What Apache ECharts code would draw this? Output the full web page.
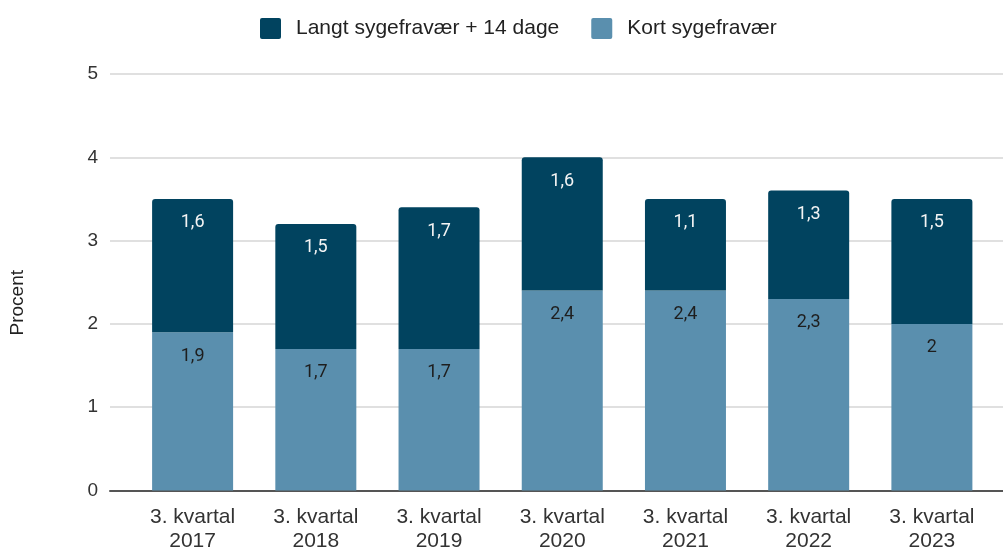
<!DOCTYPE html>
<html>
<head>
<meta charset="utf-8">
<script src="https://cdn.jsdelivr.net/npm/echarts@6/dist/echarts.min.js"></script>
<style>
  html, body { margin: 0; padding: 0; background: #fff; }
  #chart { width: 1003px; height: 547px; }
</style>
</head>
<body>
<div id="chart"></div>
<script>
// Sygefravær, 3. kvartal 2017-2023
const categories = ['3. kvartal\n2017', '3. kvartal\n2018', '3. kvartal\n2019', '3. kvartal\n2020',
                    '3. kvartal\n2021', '3. kvartal\n2022', '3. kvartal\n2023'];
const kortValues = [1.9, 1.7, 1.7, 2.4, 2.4, 2.3, 2];
const langtValues = [1.6, 1.5, 1.7, 1.6, 1.1, 1.3, 1.5];
const yTicks = [0, 1, 2, 3, 4, 5];

const colors = { langt: '#01435F', kort: '#5A8FAE', grid: '#E0E0E0', axis: '#555', ink: '#333' };
const arial = '"Liberation Sans", Arial, sans-serif';
const roboto = 'Roboto, "Noto Sans", sans-serif';
const fmt = (v) => String(v).replace('.', ',');

const yMin = yTicks[0];
const yMax = yTicks[yTicks.length - 1];

// small-radius square for the legend keys
const keyIcon = 'path://M2,0H19Q21,0,21,2V19Q21,21,19,21H2Q0,21,0,19V2Q0,0,2,0Z';

const chart = echarts.init(document.getElementById('chart'), null, { renderer: 'canvas' });
chart.setOption({
  animation: false,
  textStyle: { fontFamily: arial },
  legend: {
    top: 13,
    left: 255,
    itemWidth: 21,
    itemHeight: 21,
    itemGap: 32,
    icon: keyIcon,
    data: ['Langt sygefravær + 14 dage', 'Kort sygefravær'],
    textStyle: { color: '#222', fontSize: 21, fontFamily: arial, padding: [0, 0, 0, 10] },
  },
  graphic: [{
    type: 'text',
    left: 8,
    top: 270,
    rotation: Math.PI / 2,
    style: { text: 'Procent', fill: '#222', font: '19px ' + arial },
  }],
  // grid 0: gridlines and baseline run the full width; grid 1 holds the bars
  grid: [
    { left: 110, right: 0, top: 74, bottom: 56.5, outerBoundsMode: 'none' },
    { left: 131, right: 9.5, top: 74, bottom: 56.5, outerBoundsMode: 'none' },
  ],
  xAxis: [
    {
      gridIndex: 0, type: 'value', min: 0, max: 1,
      splitLine: { show: false }, axisTick: { show: false }, axisLabel: { show: false },
      axisLine: { show: true, lineStyle: { color: colors.axis, width: 2 } },
    },
    {
      gridIndex: 1, type: 'category', data: categories,
      axisLine: { show: false }, axisTick: { show: false },
      axisLabel: { color: colors.ink, fontSize: 21, lineHeight: 24, margin: 15, fontFamily: arial },
    },
  ],
  yAxis: [
    {
      gridIndex: 0, type: 'value', min: yMin, max: yMax, interval: 1,
      axisLine: { show: false }, axisTick: { show: false },
      axisLabel: { color: colors.ink, fontSize: 19, margin: 12, fontFamily: arial },
      splitLine: { lineStyle: { color: colors.grid, width: 2 } },
    },
    {
      gridIndex: 1, type: 'value', min: yMin, max: yMax, interval: 1,
      axisLine: { show: false }, axisTick: { show: false }, axisLabel: { show: false },
      splitLine: { show: false },
    },
  ],
  series: [
    {
      name: 'Kort sygefravær',
      type: 'bar',
      stack: 'total',
      xAxisIndex: 1, yAxisIndex: 1,
      barWidth: 81,
      data: kortValues,
      itemStyle: { color: colors.kort },
      label: {
        show: true, position: 'insideTop', distance: 15,
        formatter: (p) => fmt(p.value),
        color: '#1e1e1e', fontSize: 18, fontFamily: roboto,
      },
    },
    {
      name: 'Langt sygefravær + 14 dage',
      type: 'bar',
      stack: 'total',
      xAxisIndex: 1, yAxisIndex: 1,
      barWidth: 81,
      data: langtValues,
      itemStyle: { color: colors.langt, borderRadius: [3, 3, 0, 0] },
      label: {
        show: true, position: 'insideTop', distance: 15,
        formatter: (p) => fmt(p.value),
        color: '#f4f4f4', fontSize: 18, fontFamily: roboto,
      },
    },
  ],
});
</script>
</body>
</html>
